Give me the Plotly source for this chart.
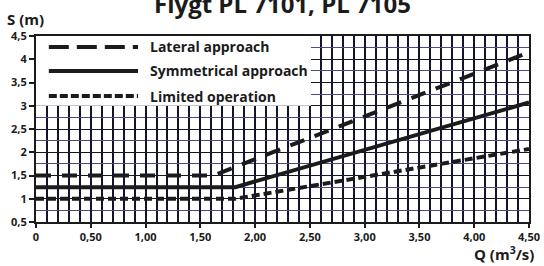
import plotly.graph_objects as go

# ---- data ----
series_names = ["Lateral approach", "Symmetrical approach", "Limited operation"]
lateral_q = [0.0, 1.62, 4.5]
lateral_s = [1.5, 1.5, 4.15]
symmetrical_q = [0.0, 1.82, 4.5]
symmetrical_s = [1.25, 1.25, 3.07]
limited_q = [0.0, 1.82, 4.5]
limited_s = [1.0, 1.0, 2.07]

x_tickvals = [0, 0.5, 1.0, 1.5, 2.0, 2.5, 3.0, 3.5, 4.0, 4.5]
x_ticktext = ["0", "0,50", "1,00", "1,50", "2,00", "2,50", "3,00", "3,50", "4,00", "4,50"]
y_tickvals = [0.5, 1, 1.5, 2, 2.5, 3, 3.5, 4, 4.5]
y_ticktext = ["0,5", "1", "1,5", "2", "2,5", "3", "3,5", "4", "4,5"]

title_text = "Flygt PL 7101, PL 7105"
y_title = "S (m)"
x_title = "Q (m<sup>3</sup>/s)"

FONT = "Open Sans"
INK = "#1b1b1b"
dashes = ["15px,11px", "solid", "8px,4px"]

fig = go.Figure()
for q, s, d in [(lateral_q, lateral_s, dashes[0]),
                (symmetrical_q, symmetrical_s, dashes[1]),
                (limited_q, limited_s, dashes[2])]:
    fig.add_trace(go.Scatter(x=q, y=s, mode="lines", showlegend=False, hoverinfo="skip",
                             line=dict(color=INK, width=4, dash=d)))

# white legend box covering grid
fig.add_shape(type="rect", xref="x", yref="y", x0=0, x1=2.51, y0=3.0, y1=4.5,
              fillcolor="white", line=dict(width=0), layer="between")
legend_dash = ["20px,8px", "solid", "8px,3px"]
rows_y = [0.941, 0.812, 0.677]
for name, d, yy in zip(series_names, legend_dash, rows_y):
    fig.add_shape(type="line", xref="paper", yref="paper", x0=0.026, x1=0.207, y0=yy, y1=yy,
                  line=dict(color=INK, width=4, dash=d), layer="above")
    fig.add_annotation(text="<b>%s</b>" % name, xref="paper", yref="paper", x=0.227, y=yy,
                       xanchor="left", yanchor="middle", showarrow=False,
                       font=dict(family=FONT, size=14, color=INK))

fig.add_annotation(text="<b>%s</b>" % title_text, xref="paper", yref="paper",
                   x=0.5, y=1.0, yshift=14, xanchor="center", yanchor="bottom", showarrow=False,
                   font=dict(family=FONT, size=24, color=INK))
fig.add_annotation(text="<b>%s</b>" % y_title, xref="paper", yref="paper",
                   x=-0.062, y=1.09, xanchor="left", yanchor="middle", showarrow=False,
                   font=dict(family=FONT, size=15, color=INK))
fig.add_annotation(text="<b>%s</b>" % x_title, xref="paper", yref="paper",
                   x=1.014, y=-0.17, xanchor="right", yanchor="middle", showarrow=False,
                   font=dict(family=FONT, size=15, color=INK))

fig.update_layout(
    width=544, height=266,
    margin=dict(l=36, r=15, t=36, b=44),
    paper_bgcolor="white", plot_bgcolor="white",
    font=dict(family=FONT, color=INK),
    hovermode=False,
)
fig.update_xaxes(range=[0, 4.5], tickvals=x_tickvals, ticktext=["<b>%s</b>" % t for t in x_ticktext],
                 showgrid=True, gridcolor="#15152a", gridwidth=1.6, automargin=False,
                 minor=dict(dtick=0.1, tick0=0, showgrid=True, gridcolor="#15152a", gridwidth=1.6),
                 showline=True, linecolor=INK, linewidth=2, mirror=True,
                 ticks="outside", ticklen=4, tickwidth=1.5, tickcolor=INK,
                 tickfont=dict(family=FONT, size=11, color=INK), zeroline=False)
fig.update_yaxes(range=[0.5, 4.5], tickvals=y_tickvals, ticktext=["<b>%s</b>" % t for t in y_ticktext],
                 showgrid=True, gridcolor="#15152a", gridwidth=1.4, automargin=False,
                 minor=dict(dtick=0.25, tick0=0.5, showgrid=True, gridcolor="#4a4a8a", gridwidth=1),
                 showline=True, linecolor=INK, linewidth=2, mirror=True,
                 ticks="outside", ticklen=5, tickwidth=1.5, tickcolor=INK,
                 tickfont=dict(family=FONT, size=11, color=INK), zeroline=False)

fig.write_html("out.html", config={"displayModeBar": False},
               post_script="document.body.style.margin='0px';")
